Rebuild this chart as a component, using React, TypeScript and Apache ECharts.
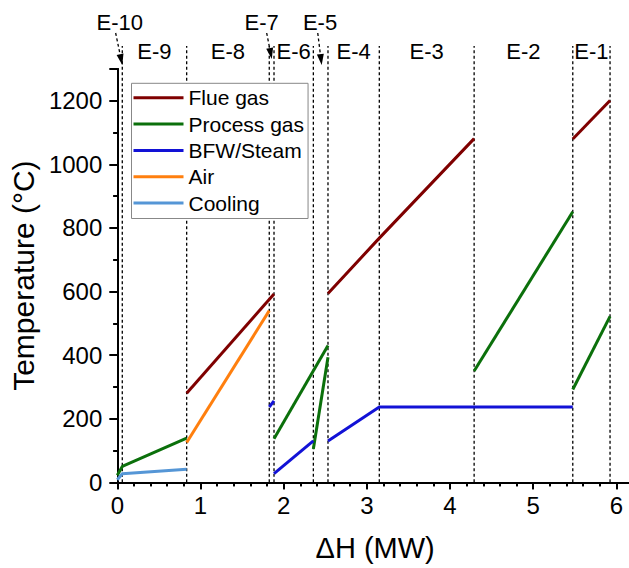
import React, { useEffect, useRef } from "react";
import * as echarts from "echarts";

// ---- Data: [ΔH (MW), Temperature (°C)] ----
const flueGasE8 = [[0.834, 280], [1.884, 592]];
const flueGasE4E3 = [[2.533, 594], [3.15, 768], [4.29, 1081]];
const flueGasE1 = [[5.476, 1080], [5.924, 1201]];

const processGasE10E9 = [[0.0, 22], [0.06, 50], [0.834, 139]];
const processGasE6 = [[1.884, 137], [2.533, 430]];
const processGasE5 = [[2.357, 105], [2.533, 393]];
const processGasE2 = [[4.29, 350], [5.476, 851]];
const processGasE1 = [[5.476, 292], [5.924, 522]];

const bfwE7 = [[1.827, 237], [1.884, 256]];
const bfwE6 = [[1.884, 27], [2.357, 130]];
const bfwE4E3E2 = [[2.533, 130], [3.15, 237], [4.29, 237], [5.476, 237]];

const airE8 = [[0.834, 125], [1.827, 540]];

const coolingE10E9 = [[0.0, 8], [0.06, 27], [0.834, 41]];

// Exchanger boundaries (MW)
const boundaries = [0.06, 0.834, 1.827, 1.884, 2.357, 2.533, 3.15, 4.29, 5.476, 5.924];

// Exchanger labels placed between boundaries
const inlineLabels = ["E-9", "E-8", "E-6", "E-4", "E-3", "E-2", "E-1"];
const inlineFrom = [0.06, 0.834, 1.884, 2.533, 3.15, 4.29, 5.476];
const inlineTo = [0.834, 1.827, 2.357, 3.15, 4.29, 5.476, 5.924];

// Labels with arrows (small exchangers)
const arrowLabels = ["E-10", "E-7", "E-5"];
const arrowTextX = [0.03, 1.736, 2.437];
const arrowTailX = [-0.02, 1.796, 2.41];
const arrowTipX = [0.06, 1.857, 2.457];

const legendNames = ["Flue gas", "Process gas", "BFW/Steam", "Air", "Cooling"];

const FONT = "'Liberation Sans', Arial, Helvetica, sans-serif";

const groups = [
  { name: "Flue gas", color: "#7f0000", segs: [flueGasE8, flueGasE4E3, flueGasE1] },
  { name: "Process gas", color: "#0b700b", segs: [processGasE10E9, processGasE6, processGasE5, processGasE2, processGasE1] },
  { name: "BFW/Steam", color: "#1212d6", segs: [bfwE7, bfwE6, bfwE4E3E2] },
  { name: "Air", color: "#ff7f0e", segs: [airE8] },
  { name: "Cooling", color: "#5596d6", segs: [coolingE10E9] },
];

export default function App() {
  const ref = useRef<HTMLDivElement>(null);

  useEffect(() => {
    if (!ref.current) return;
    const chart = echarts.init(ref.current, null, { renderer: "svg" });

    const lineSeries: any[] = [];
    groups.forEach((g) => {
      g.segs.forEach((s) => {
        lineSeries.push({
          type: "line",
          name: g.name,
          data: s,
          showSymbol: false,
          symbol: "none",
          color: g.color,
          itemStyle: { color: g.color },
          lineStyle: { color: g.color, width: 3 },
          z: 3,
          silent: true,
        });
      });
    });

    const boundarySeries = {
      type: "custom",
      silent: true,
      z: 1,
      clip: false,
      data: boundaries.map((x) => [x, 0]),
      renderItem: (params: any, api: any) => {
        const x = api.value(0);
        const b = api.coord([x, 0]);
        const t = api.coord([x, 1300]);
        return {
          type: "line",
          shape: { x1: b[0], y1: b[1], x2: b[0], y2: t[1] - 23 },
          style: { stroke: "#000", lineWidth: 1.3, lineDash: [3, 2.5] },
        };
      },
    };

    const inlineLabelSeries = {
      type: "custom",
      silent: true,
      z: 4,
      clip: false,
      data: inlineLabels.map((_, i) => [(inlineFrom[i] + inlineTo[i]) / 2, 0]),
      renderItem: (params: any, api: any) => {
        const x = api.value(0);
        const p = api.coord([x, 1300]);
        return {
          type: "text",
          style: {
            text: inlineLabels[params.dataIndex],
            x: p[0],
            y: p[1] - 17.5,
            align: "center",
            verticalAlign: "middle",
            fontSize: 22,
            fontFamily: FONT,
            fill: "#000",
          },
        };
      },
    };

    const arrowSeries = {
      type: "custom",
      silent: true,
      z: 4,
      clip: false,
      data: arrowLabels.map((_, i) => [arrowTipX[i], 0]),
      renderItem: (params: any, api: any) => {
        const i = params.dataIndex;
        const top = api.coord([0, 1300])[1];
        const tx = api.coord([arrowTextX[i], 0])[0];
        const ax = api.coord([arrowTailX[i], 0])[0];
        const px = api.coord([arrowTipX[i], 0])[0];
        const ay = top - 36;
        const py = i === 1 ? top - 10 : top - 4;
        const dx = px - ax;
        const dy = py - ay;
        const len = Math.sqrt(dx * dx + dy * dy);
        const ux = dx / len;
        const uy = dy / len;
        const hl = 11;
        const hw = 3.5;
        const bx = px - ux * hl;
        const by = py - uy * hl;
        return {
          type: "group",
          children: [
            {
              type: "text",
              style: {
                text: arrowLabels[i],
                x: tx,
                y: top - 46.5,
                align: "center",
                verticalAlign: "middle",
                fontSize: 22,
                fontFamily: FONT,
                fill: "#000",
              },
            },
            {
              type: "line",
              shape: { x1: ax, y1: ay, x2: bx, y2: by },
              style: { stroke: "#000", lineWidth: 1.3, lineDash: [3, 2.5] },
            },
            {
              type: "polygon",
              shape: {
                points: [
                  [px, py],
                  [bx - uy * hw, by + ux * hw],
                  [bx + uy * hw, by - ux * hw],
                ],
              },
              style: { fill: "#000" },
            },
          ],
        };
      },
    };

    const axisLineStyle = { lineStyle: { color: "#000", width: 2 } };
    const plain = (v: number) => String(v);

    chart.setOption({
      animation: false,
      textStyle: { fontFamily: FONT },
      grid: { left: 117.3, right: 7, top: 69, bottom: 85.7, containLabel: false },
      legend: {
        data: legendNames,
        orient: "vertical",
        left: 131.5,
        top: 83.3,
        icon: "rect",
        itemWidth: 50,
        itemHeight: 3,
        itemGap: 5.3,
        padding: [4, 4, 5, 2],
        borderColor: "#888",
        borderWidth: 1,
        backgroundColor: "#fff",
        textStyle: { fontSize: 21, fontFamily: FONT, color: "#000" },
        selectedMode: false,
        z: 10,
      },
      xAxis: [
        {
          type: "value",
          position: "bottom",
          min: 0,
          max: 6.2,
          interval: 1,
          splitLine: { show: false },
          axisLine: axisLineStyle,
          axisTick: { show: true, inside: false, length: 7, lineStyle: { color: "#000", width: 2 } },
          minorTick: { show: true, splitNumber: 5, length: 4, lineStyle: { color: "#000", width: 2 } },
          axisLabel: {
            fontSize: 24,
            color: "#000",
            fontFamily: FONT,
            margin: 11,
            showMaxLabel: false,
            formatter: plain,
          },
          name: "\u0394H (MW)",
          nameLocation: "middle",
          nameGap: 51,
          nameTextStyle: { fontSize: 29, color: "#000", fontFamily: FONT },
        },
        {
          type: "value",
          position: "top",
          min: 0,
          max: 6.2,
          interval: 1,
          splitLine: { show: false },
          axisLine: axisLineStyle,
          axisTick: { show: true, inside: true, length: 7, lineStyle: { color: "#000", width: 2 } },
          minorTick: { show: true, splitNumber: 5, length: 4, lineStyle: { color: "#000", width: 2 } },
          axisLabel: { show: false },
        },
      ],
      yAxis: [
        {
          type: "value",
          position: "left",
          min: 0,
          max: 1300,
          interval: 200,
          splitLine: { show: false },
          axisLine: axisLineStyle,
          axisTick: { show: true, inside: false, length: 8, lineStyle: { color: "#000", width: 2 } },
          minorTick: { show: true, splitNumber: 2, length: 4, lineStyle: { color: "#000", width: 2 } },
          axisLabel: {
            fontSize: 24,
            color: "#000",
            fontFamily: FONT,
            margin: 15,
            showMaxLabel: false,
            formatter: plain,
          },
          name: "Temperature (\u00B0C)",
          nameLocation: "middle",
          nameGap: 72,
          nameTextStyle: { fontSize: 30, color: "#000", fontFamily: FONT },
        },
        {
          type: "value",
          position: "right",
          min: 0,
          max: 1300,
          interval: 200,
          splitLine: { show: false },
          axisLine: axisLineStyle,
          axisTick: { show: true, inside: true, length: 7, lineStyle: { color: "#000", width: 2 } },
          minorTick: { show: true, splitNumber: 2, length: 4, lineStyle: { color: "#000", width: 2 } },
          axisLabel: { show: false },
        },
      ],
      series: [boundarySeries, ...lineSeries, inlineLabelSeries, arrowSeries],
    });

    return () => chart.dispose();
  }, []);

  return (
    <div style={{ position: "absolute", left: 0, top: 0, width: 629, height: 568, overflow: "hidden", background: "#fff" }}>
      <div ref={ref} style={{ width: 640, height: 568 }} />
    </div>
  );
}
